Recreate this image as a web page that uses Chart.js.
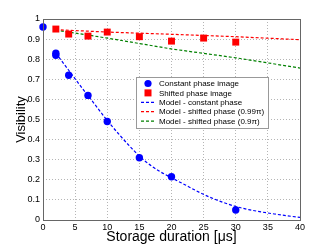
<!DOCTYPE html>
<html>
<head>
<meta charset="utf-8">
<script src="https://cdn.jsdelivr.net/npm/chart.js@4/dist/chart.umd.min.js"></script>
<style>
html,body{margin:0;padding:0;background:#fff;}
#wrap{width:331px;height:248px;}
</style>
</head>
<body>
<div id="wrap"><canvas id="c" width="331" height="248"></canvas></div>
<script>
// Measured points
const constPhaseX = [0, 2, 2, 4, 7, 10, 15, 20, 30];
const constPhaseV = [0.96, 0.83, 0.82, 0.72, 0.62, 0.49, 0.31, 0.215, 0.05];
const shiftPhaseX = [2, 4, 7, 10, 15, 20, 25, 30];
const shiftPhaseV = [0.95, 0.925, 0.915, 0.935, 0.912, 0.89, 0.905, 0.885];
// Model curves
const modelConstX = [2, 4, 6, 8, 10, 12, 14, 16, 18, 20, 22, 24, 26, 28, 30, 32, 34, 36, 38, 40];
const modelConstV = [0.83, 0.745, 0.66, 0.578, 0.495, 0.42, 0.35, 0.29, 0.245, 0.21, 0.177, 0.143, 0.113, 0.088, 0.067, 0.052, 0.04, 0.03, 0.021, 0.013];
const model099X = [2, 10, 20, 30, 40];
const model099V = [0.947, 0.935, 0.924, 0.912, 0.897];
const model09X = [2, 10, 20, 30, 40];
const model09V = [0.945, 0.905, 0.851, 0.807, 0.756];
// Ticks
const xTicks = [0, 5, 10, 15, 20, 25, 30, 35, 40];
const yTicks = [0, 0.1, 0.2, 0.3, 0.4, 0.5, 0.6, 0.7, 0.8, 0.9, 1];
const labels = ['Constant phase image', 'Shifted phase image', 'Model - constant phase', 'Model - shifted phase (0.99\u03C0)', 'Model - shifted phase (0.9\u03C0)'];

const pts = (xs, ys) => xs.map((x, i) => ({x: x, y: ys[i]}));
const FONT = 'Liberation Sans, Arial, sans-serif';

const boxPlugin = {
  id: 'box',
  afterDraw(chart) {
    const a = chart.chartArea, ctx = chart.ctx;
    ctx.save();
    ctx.strokeStyle = '#666';
    ctx.lineWidth = 1;
    ctx.strokeRect(Math.round(a.left) + 0.5, Math.round(a.top) + 0.5, Math.round(a.right - a.left), Math.round(a.bottom - a.top));
    ctx.restore();
  }
};

const legendPlugin = {
  id: 'inLegend',
  afterDatasetsDraw(chart) {
    const ctx = chart.ctx;
    const x0 = 136.5, y0 = 77.5, w = 132, h = 51;
    ctx.save();
    ctx.fillStyle = '#fff';
    ctx.fillRect(x0, y0, w, h);
    ctx.strokeStyle = '#999';
    ctx.lineWidth = 1;
    ctx.strokeRect(x0, y0, w, h);
    ctx.font = '8px ' + FONT;
    ctx.textBaseline = 'middle';
    ctx.textAlign = 'left';
    chart.data.datasets.forEach((ds, i) => {
      const cy = 83.5 + i * 9.4;
      if (ds.showLine) {
        ctx.strokeStyle = ds.borderColor;
        ctx.lineWidth = ds.borderWidth;
        ctx.setLineDash(ds.borderDash);
        ctx.beginPath();
        ctx.moveTo(141, cy);
        ctx.lineTo(155, cy);
        ctx.stroke();
        ctx.setLineDash([]);
      } else {
        ctx.fillStyle = ds.pointBackgroundColor;
        if (ds.pointStyle === 'rect') {
          ctx.fillRect(144.5, cy - 3.5, 7, 7);
        } else {
          ctx.beginPath();
          ctx.arc(148, cy, 3.6, 0, Math.PI * 2);
          ctx.fill();
        }
      }
      ctx.fillStyle = '#000';
      ctx.fillText(ds.label, 159, cy + 0.5);
    });
    ctx.restore();
  }
};

new Chart(document.getElementById('c'), {
  type: 'scatter',
  data: {
    datasets: [
      {label: labels[0], data: pts(constPhaseX, constPhaseV), pointStyle: 'circle', pointRadius: 3.7, pointBackgroundColor: '#0000ff', pointBorderColor: '#0000ff', borderWidth: 0, showLine: false, clip: false, order: 1},
      {label: labels[1], data: pts(shiftPhaseX, shiftPhaseV), pointStyle: 'rect', pointRadius: 4.9, pointBackgroundColor: '#ff0000', pointBorderColor: '#ff0000', borderWidth: 0, showLine: false, clip: false, order: 1},
      {label: labels[2], data: pts(modelConstX, modelConstV), showLine: true, borderColor: '#0000ff', borderWidth: 1.2, borderDash: [3, 2], pointRadius: 0, cubicInterpolationMode: 'monotone', order: 2},
      {label: labels[3], data: pts(model099X, model099V), showLine: true, borderColor: '#ff0000', borderWidth: 1.2, borderDash: [3, 2], pointRadius: 0, order: 2},
      {label: labels[4], data: pts(model09X, model09V), showLine: true, borderColor: '#008000', borderWidth: 1.2, borderDash: [3, 2], pointRadius: 0, order: 2}
    ]
  },
  options: {
    responsive: false,
    animation: false,
    events: [],
    layout: {padding: {left: 0, top: 19, right: 31, bottom: 0}},
    plugins: {legend: {display: false}, tooltip: {enabled: false}},
    scales: {
      x: {
        type: 'linear', min: 0, max: 40,
        afterBuildTicks: (s) => { s.ticks = xTicks.map(v => ({value: v})); },
        afterFit: (s) => { s.height = 28; },
        ticks: {font: {family: FONT, size: 9}, color: '#000', padding: 2, maxRotation: 0},
        grid: {color: '#b5b5b5', lineWidth: 1, drawTicks: false},
        border: {display: false, dash: [1, 2]},
        title: {display: true, text: 'Storage duration [\u03BCs]', font: {family: FONT, size: 14}, color: '#000', padding: {top: 0, bottom: 2}}
      },
      y: {
        type: 'linear', min: 0, max: 1,
        afterBuildTicks: (s) => { s.ticks = yTicks.map(v => ({value: v})); },
        afterFit: (s) => { s.width = 43; },
        ticks: {font: {family: FONT, size: 9}, color: '#000', padding: 3, callback: (v) => String(Math.round(v * 10) / 10)},
        grid: {color: '#b5b5b5', lineWidth: 1, drawTicks: false},
        border: {display: false, dash: [1, 2]},
        title: {display: true, text: 'Visibility', font: {family: FONT, size: 13}, color: '#000', padding: {top: 14, bottom: 0}}
      }
    }
  },
  plugins: [boxPlugin, legendPlugin]
});
</script>
</body>
</html>
